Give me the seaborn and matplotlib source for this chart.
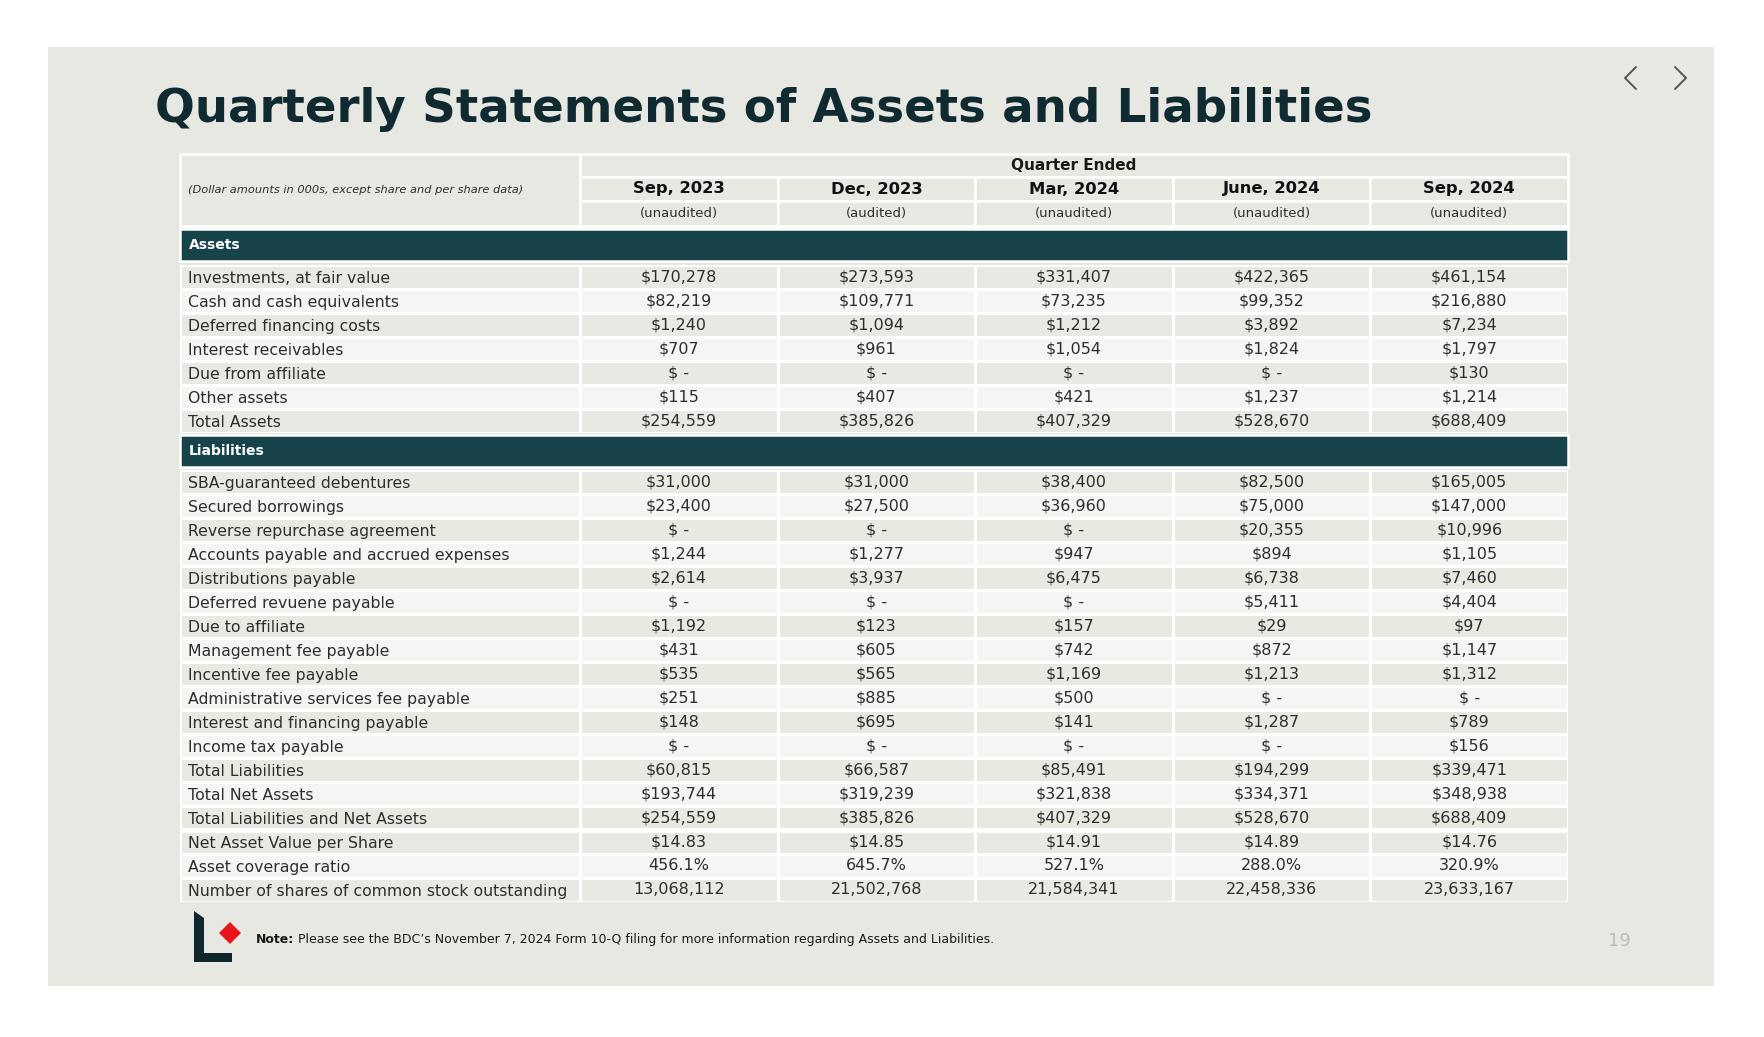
import numpy as np
import pandas as pd
import matplotlib
matplotlib.use("Agg")
import matplotlib.pyplot as plt
from matplotlib.colors import ListedColormap
from matplotlib.patches import Rectangle, Polygon
import seaborn as sns

# ---------------- data ----------------
quarters = ['Sep, 2023', 'Dec, 2023', 'Mar, 2024', 'June, 2024', 'Sep, 2024']
audit_status = ['(unaudited)', '(audited)', '(unaudited)', '(unaudited)', '(unaudited)']

asset_items = ['Investments, at fair value', 'Cash and cash equivalents', 'Deferred financing costs',
               'Interest receivables', 'Due from affiliate', 'Other assets', 'Total Assets']
asset_values = [
    [170278, 273593, 331407, 422365, 461154],
    [82219, 109771, 73235, 99352, 216880],
    [1240, 1094, 1212, 3892, 7234],
    [707, 961, 1054, 1824, 1797],
    [None, None, None, None, 130],
    [115, 407, 421, 1237, 1214],
    [254559, 385826, 407329, 528670, 688409],
]

liability_items = ['SBA-guaranteed debentures', 'Secured borrowings', 'Reverse repurchase agreement',
                   'Accounts payable and accrued expenses', 'Distributions payable',
                   'Deferred revuene payable', 'Due to affiliate', 'Management fee payable',
                   'Incentive fee payable', 'Administrative services fee payable',
                   'Interest and financing payable', 'Income tax payable', 'Total Liabilities',
                   'Total Net Assets', 'Total Liabilities and Net Assets']
liability_values = [
    [31000, 31000, 38400, 82500, 165005],
    [23400, 27500, 36960, 75000, 147000],
    [None, None, None, 20355, 10996],
    [1244, 1277, 947, 894, 1105],
    [2614, 3937, 6475, 6738, 7460],
    [None, None, None, 5411, 4404],
    [1192, 123, 157, 29, 97],
    [431, 605, 742, 872, 1147],
    [535, 565, 1169, 1213, 1312],
    [251, 885, 500, None, None],
    [148, 695, 141, 1287, 789],
    [None, None, None, None, 156],
    [60815, 66587, 85491, 194299, 339471],
    [193744, 319239, 321838, 334371, 348938],
    [254559, 385826, 407329, 528670, 688409],
]

ratio_items = ['Net Asset Value per Share', 'Asset coverage ratio',
               'Number of shares of common stock outstanding']
nav_per_share = [14.83, 14.85, 14.91, 14.89, 14.76]
asset_coverage = [456.1, 645.7, 527.1, 288.0, 320.9]
shares_outstanding = [13068112, 21502768, 21584341, 22458336, 23633167]

# ---------------- formatting ----------------
def dollars(v):
    return '$ -' if v is None else f'${v:,}'

asset_cells = [[dollars(v) for v in row] for row in asset_values]
liab_cells = [[dollars(v) for v in row] for row in liability_values]
liab_cells += [[f'${v:.2f}' for v in nav_per_share],
               [f'{v:.1f}%' for v in asset_coverage],
               [f'{v:,}' for v in shares_outstanding]]

# ---------------- style ----------------
sns.set_theme(style='white')
plt.rcParams['font.family'] = ['DejaVu Sans']

PANEL = '#E8E8E3'
ROW_DARK = '#E9E9E4'
ROW_LIGHT = '#F5F5F3'
BAND = '#17434A'
TITLE = '#0F2A30'
TEXT = '#2E2E2E'
cmap = ListedColormap([ROW_DARK, ROW_LIGHT])

W, H = 1765, 1037
fig = plt.figure(figsize=(W / 100, H / 100), dpi=100, facecolor='white')

TX0, TSPLIT, TX1 = 180, 580, 1568
CW = (TX1 - TSPLIT) / 5
ROW_H = 24
LW = 1.8
BODY_FS = 11.3


def px_axes(x0, y0, x1, y1):
    return fig.add_axes([x0 / W, 1 - y1 / H, (x1 - x0) / W, (y1 - y0) / H])


# background / slide
bg = fig.add_axes([0, 0, 1, 1])
bg.set_xlim(0, W)
bg.set_ylim(H, 0)
bg.axis('off')
bg.add_patch(Rectangle((48, 47), 1666, 939, fc=PANEL, ec='none'))

bg.text(155, 109, 'Quarterly Statements of Assets and Liabilities', fontsize=33.7,
        fontweight='bold', color=TITLE, ha='left', va='center')

# navigation chevrons
bg.plot([1636, 1625, 1636], [67, 78, 89], color='#555555', lw=1.4)
bg.plot([1675, 1686, 1675], [67, 78, 89], color='#555555', lw=1.4)

# header block
bg.add_patch(Rectangle((TX0, 154), TSPLIT - TX0, 72, fc=PANEL, ec='white', lw=LW))
bg.text(TX0 + 8, 190, '(Dollar amounts in 000s, except share and per share data)',
        fontsize=8.2, style='italic', color=TEXT, ha='left', va='center')
bg.add_patch(Rectangle((TSPLIT, 154), TX1 - TSPLIT, 23, fc=PANEL, ec='white', lw=LW))
bg.text((TSPLIT + TX1) / 2, 166, 'Quarter Ended', fontsize=11, fontweight='bold',
        color='#1A1A1A', ha='center', va='center')
for j, (q, a) in enumerate(zip(quarters, audit_status)):
    x0 = TSPLIT + j * CW
    bg.add_patch(Rectangle((x0, 177), CW, 24, fc=PANEL, ec='white', lw=LW))
    bg.add_patch(Rectangle((x0, 201), CW, 25, fc=PANEL, ec='white', lw=LW))
    bg.text(x0 + CW / 2, 189, q, fontsize=11.8, fontweight='bold', color='#111111',
            ha='center', va='center')
    bg.text(x0 + CW / 2, 213, a, fontsize=9.5, color=TEXT, ha='center', va='center')

# section bands
for y0, name in [(229, 'Assets'), (435, 'Liabilities')]:
    bg.add_patch(Rectangle((TX0, y0), TX1 - TX0, 32, fc=BAND, ec='white', lw=LW))
    bg.text(TX0 + 9, y0 + 16, name, fontsize=10, fontweight='bold', color='white',
            ha='left', va='center')


def draw_block(y0, labels, cells, shade, gap_after=None):
    n = len(labels)
    y1 = y0 + n * ROW_H
    shade = np.asarray(shade)

    ax_l = px_axes(TX0, y0, TSPLIT, y1)
    sns.heatmap(pd.DataFrame(shade[:, None]), ax=ax_l, cmap=cmap, vmin=0, vmax=1,
                cbar=False, linewidths=LW, linecolor='white',
                xticklabels=False, yticklabels=False)
    for i, lab in enumerate(labels):
        ax_l.text(0.02, i + 0.55, lab, ha='left', va='center', fontsize=BODY_FS, color=TEXT)

    ax_v = px_axes(TSPLIT, y0, TX1, y1)
    grid = pd.DataFrame(np.repeat(shade[:, None], 5, axis=1), columns=quarters)
    sns.heatmap(grid, ax=ax_v, cmap=cmap, vmin=0, vmax=1, cbar=False,
                linewidths=LW, linecolor='white', annot=np.array(cells), fmt='',
                annot_kws=dict(fontsize=BODY_FS + 0.2, color=TEXT),
                xticklabels=False, yticklabels=False)
    if gap_after is not None:
        for ax in (ax_l, ax_v):
            ax.axhline(gap_after, color='white', lw=3.5)


assets_shade = np.arange(len(asset_items)) % 2
liab_shade = np.concatenate([np.arange(len(liability_items)) % 2,
                             np.arange(len(ratio_items)) % 2])
draw_block(265, asset_items, asset_cells, assets_shade)
draw_block(470, liability_items + ratio_items, liab_cells, liab_shade,
           gap_after=len(liability_items))

# footer: logo, note, page number
bg.add_patch(Polygon([(194, 911), (204, 918), (204, 953), (232, 953), (232, 962), (194, 962)],
                     closed=True, fc='#0E262C', ec='none'))
bg.add_patch(Polygon([(230, 922), (241, 933), (230, 944), (219, 933)],
                     closed=True, fc='#E8141B', ec='none'))
note = bg.text(256, 943, 'Note:', fontsize=9, fontweight='bold', color='#1A1A1A',
               ha='left', va='baseline')
bg.annotate("Please see the BDC\u2019s November 7, 2024 Form 10-Q filing for more information "
            "regarding Assets and Liabilities.", xy=(1, 0), xycoords=note,
            xytext=(3, 0), textcoords='offset points', fontsize=9, color='#1A1A1A',
            ha='left', va='bottom')
bg.text(1619, 941, '19', fontsize=13, color='#BBBBBB', ha='center', va='center')

fig.savefig('out.png', dpi=100, facecolor='white')
